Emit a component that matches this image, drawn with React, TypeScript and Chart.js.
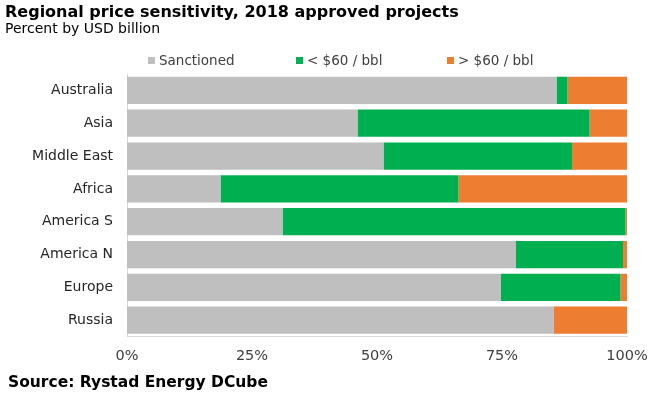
import React, { useEffect, useRef } from "react";
import { Chart, registerables } from "chart.js";

Chart.register(...registerables);

const categories = ["Australia", "Asia", "Middle East", "Africa", "America S", "America N", "Europe", "Russia"];
const sanctioned = [85.9, 46.1, 51.3, 18.7, 31.1, 77.8, 74.8, 85.3];
const below60 = [2.2, 46.4, 37.7, 47.6, 68.6, 21.4, 23.9, 0];
const above60 = [11.9, 7.5, 11.0, 33.7, 0.3, 0.8, 1.3, 14.7];
const seriesNames = ["Sanctioned", "< $60 / bbl", "> $60 / bbl"];
const seriesColors = ["#BFBFBF", "#00B050", "#ED7D31"];
const xTicks = [0, 25, 50, 75, 100];

const FONT = "'DejaVu Sans', Verdana, sans-serif";

export default function App() {
  const ref = useRef<HTMLCanvasElement | null>(null);

  useEffect(() => {
    document.body.style.margin = "0";
    const ctx = ref.current;
    if (!ctx) return;
    const values = [sanctioned, below60, above60];
    const chart = new Chart(ctx, {
      type: "bar",
      data: {
        labels: categories,
        datasets: values.map((v, i) => ({
          label: seriesNames[i],
          data: v,
          backgroundColor: seriesColors[i],
          borderWidth: 0,
          categoryPercentage: 1,
          barPercentage: 0.83,
        })),
      },
      options: {
        indexAxis: "y",
        animation: false,
        responsive: false,
        maintainAspectRatio: false,
        layout: { padding: { top: 74, right: 25, bottom: 23, left: 0 } },
        plugins: {
          legend: { display: false },
          tooltip: { enabled: false },
          title: { display: false },
        },
        scales: {
          x: {
            stacked: true,
            min: 0,
            max: 100,
            afterBuildTicks: (s: any) => {
              s.ticks = xTicks.map((v) => ({ value: v }));
            },
            afterFit: (s: any) => {
              s.paddingRight = 0;
              s.paddingLeft = 0;
            },
            grid: { display: false, drawTicks: false },
            border: { display: true, color: "#D9D9D9", width: 1 },
            ticks: {
              padding: 11,
              color: "#404040",
              font: { family: FONT, size: 14.5 },
              callback: (v: any) => v + "%",
              maxRotation: 0,
            },
          },
          y: {
            stacked: true,
            afterFit: (s: any) => {
              s.width = 127;
            },
            grid: { display: false, drawTicks: false },
            border: { display: true, color: "#D9D9D9", width: 1 },
            ticks: {
              padding: 14,
              color: "#262626",
              font: { family: FONT, size: 14 },
            },
          },
        },
      },
    });
    return () => chart.destroy();
  }, []);

  const legendPos = [148, 296, 447];

  return (
    <div style={{ position: "relative", width: 652, height: 399, background: "#fff", fontFamily: FONT, overflow: "hidden" }}>
      <canvas ref={ref} width={652} height={399} style={{ position: "absolute", left: 0, top: 0 }} />
      <div style={{ position: "absolute", left: 5, top: 2, fontWeight: "bold", fontSize: 16, color: "#000", whiteSpace: "nowrap" }}>
        Regional price sensitivity, 2018 approved projects
      </div>
      <div style={{ position: "absolute", left: 5, top: 20, fontSize: 14, color: "#000", whiteSpace: "nowrap" }}>
        Percent by USD billion
      </div>
      {seriesNames.map((n, i) => (
        <div key={n} style={{ position: "absolute", left: legendPos[i], top: 52, display: "flex", alignItems: "center", fontSize: 13.5, color: "#404040", whiteSpace: "nowrap" }}>
          <span style={{ display: "inline-block", width: 7, height: 7, background: seriesColors[i], marginRight: 4 }} />
          {n}
        </div>
      ))}
      <div style={{ position: "absolute", left: 8, top: 373, fontWeight: "bold", fontSize: 15.5, color: "#000", whiteSpace: "nowrap" }}>
        Source: Rystad Energy DCube
      </div>
    </div>
  );
}
